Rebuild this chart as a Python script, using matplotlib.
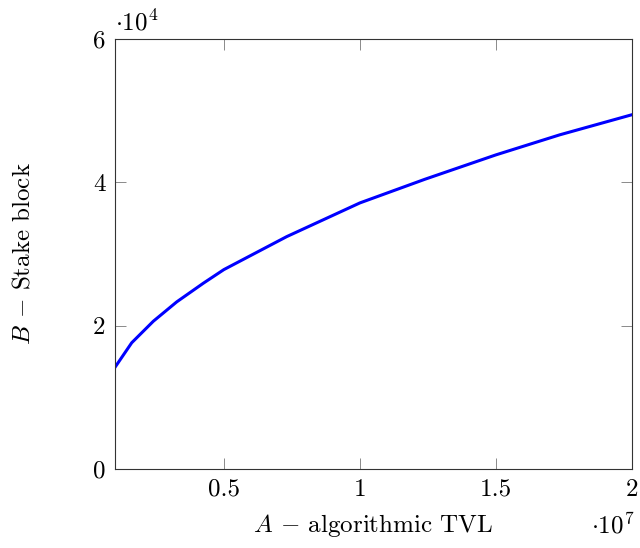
import matplotlib.pyplot as plt

# values
tvl = [1.0e6, 1.614e6, 2.408e6, 3.268e6, 4.245e6, 5.0e6, 7.31e6,
       10.0e6, 12.39e6, 15.0e6, 17.35e6, 2.0e7]
stake = [14180, 17600, 20600, 23300, 25900, 27800, 32400,
         37100, 40400, 43800, 46600, 49400]

x_ticks = [5e6, 1e7, 1.5e7, 2e7]
x_labels = ['0.5', '1', '1.5', '2']
y_ticks = [0, 2e4, 4e4, 6e4]
y_labels = ['0', '2', '4', '6']

plt.rcParams['font.family'] = ['cmr10', 'DejaVu Serif']
plt.rcParams['mathtext.fontset'] = 'cm'
plt.rcParams['axes.formatter.use_mathtext'] = True

fig = plt.figure(figsize=(6.4, 5.48), dpi=100)
ax = fig.add_axes([0.1797, 0.1442, 0.8078, 0.7852])

ax.plot(tvl, stake, color='blue', linewidth=2.2)

ax.set_xlim(1e6, 2e7)
ax.set_ylim(0, 6e4)
ax.set_xticks(x_ticks)
ax.set_xticklabels(x_labels)
ax.set_yticks(y_ticks)
ax.set_yticklabels(y_labels)
ax.tick_params(direction='in', length=8, width=0.6, color='#777777',
               top=True, right=True, labelsize=18, pad=7)
for s in ax.spines.values():
    s.set_linewidth(0.8)
    s.set_color('#333333')

ax.set_xlabel(r'$A$ $-$ algorithmic TVL', fontsize=18, labelpad=8)
ax.set_ylabel(r'$B$ $-$ Stake block', fontsize=18, labelpad=42)

ax.text(0.0, 1.008, r'$\cdot 10^4$', transform=ax.transAxes, fontsize=18,
        ha='left', va='bottom')
ax.text(1.005, -0.1, r'$\cdot 10^7$', transform=ax.transAxes, fontsize=18,
        ha='right', va='top')

fig.savefig('out.png', dpi=100)
